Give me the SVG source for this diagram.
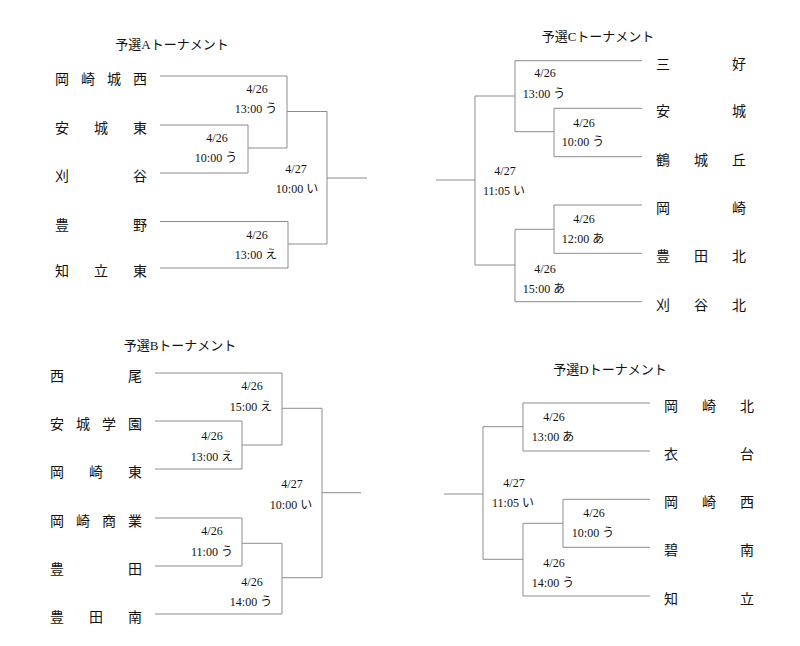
<svg xmlns="http://www.w3.org/2000/svg" width="800" height="646" viewBox="0 0 800 646">
<style>
.t{font-family:"Liberation Serif","Noto Sans CJK JP",serif;font-size:13px;fill:#111;text-anchor:middle}
.n{font-family:"Noto Sans CJK JP","Noto Sans CJK SC",sans-serif;font-size:14px;fill:#111}
.m{font-family:"Liberation Serif","Noto Sans CJK JP",serif;font-size:12px;fill:#111;text-anchor:middle}
.c path{fill:none;stroke:#8c8c8c;stroke-width:1}
</style>
<rect width="800" height="646" fill="#fff"/>
<g id="titles">
<text class="t" x="172" y="49">予選Aトーナメント</text>
<text class="t" x="598" y="41">予選Cトーナメント</text>
<text class="t" x="180" y="350">予選Bトーナメント</text>
<text class="t" x="610" y="374">予選Dトーナメント</text>
</g>
<g id="connectors" class="c">
<path d="M160 76H287V148M160 125H248V173H160M248 148H287M287 111.5H327M160 221.5H288V268H160M288 244H327M327 111.5V244M327 178H367"/>
<path d="M642 60.7H515V131.7M642 108.3H554V156.7H642M554 131.7H515M515 96H475M642 205H554V253.3H642M554 229.3H515V301.7H642M515 265H475M475 96V265M475 180H436"/>
<path d="M155 373H282V445M155 421H242V469H155M242 445H282M282 408.3H322M155 518H242V566H155M242 543.3H282V614H155M282 577.7H322M322 408.3V577.7M322 492.7H361"/>
<path d="M650 403H523V451H650M523 426.7H483M650 499.3H563V547.3H650M563 523.3H523V596H650M523 559.3H483M483 426.7V559.3M483 494H444"/>
</g>
<g id="A-teams" class="n">
<g id="a1"><text x="55" y="84">岡</text><text x="81" y="84">崎</text><text x="107" y="84">城</text><text x="133" y="84">西</text></g>
<g id="a2"><text x="55" y="133">安</text><text x="94" y="133">城</text><text x="133" y="133">東</text></g>
<g id="a3"><text x="55" y="181">刈</text><text x="133" y="181">谷</text></g>
<g id="a4"><text x="55" y="229.5">豊</text><text x="133" y="229.5">野</text></g>
<g id="a5"><text x="55" y="276">知</text><text x="94" y="276">立</text><text x="133" y="276">東</text></g>
</g>
<g id="A-matches" class="m">
<g id="am1"><text x="257" y="93">4/26</text><text x="256" y="113">13:00 う</text></g>
<g id="am2"><text x="217" y="142">4/26</text><text x="216" y="162">10:00 う</text></g>
<g id="am3"><text x="296" y="173">4/27</text><text x="297" y="193">10:00 い</text></g>
<g id="am4"><text x="257" y="239">4/26</text><text x="256" y="259">13:00 え</text></g>
</g>
<g id="C-teams" class="n">
<g id="c1"><text x="656" y="68.7">三</text><text x="732" y="68.7">好</text></g>
<g id="c2"><text x="656" y="116.3">安</text><text x="732" y="116.3">城</text></g>
<g id="c3"><text x="656" y="164.7">鶴</text><text x="694" y="164.7">城</text><text x="732" y="164.7">丘</text></g>
<g id="c4"><text x="656" y="213">岡</text><text x="732" y="213">崎</text></g>
<g id="c5"><text x="656" y="261.3">豊</text><text x="694" y="261.3">田</text><text x="732" y="261.3">北</text></g>
<g id="c6"><text x="656" y="309.7">刈</text><text x="694" y="309.7">谷</text><text x="732" y="309.7">北</text></g>
</g>
<g id="C-matches" class="m">
<g id="cm1"><text x="545" y="77">4/26</text><text x="544" y="97.5">13:00 う</text></g>
<g id="cm2"><text x="584" y="127">4/26</text><text x="583" y="146">10:00 う</text></g>
<g id="cm3"><text x="505" y="175">4/27</text><text x="504" y="195">11:05 い</text></g>
<g id="cm4"><text x="584" y="223">4/26</text><text x="583" y="243">12:00 あ</text></g>
<g id="cm5"><text x="545" y="273">4/26</text><text x="544" y="293">15:00 あ</text></g>
</g>
<g id="B-teams" class="n">
<g id="b1"><text x="50" y="381">西</text><text x="128" y="381">尾</text></g>
<g id="b2"><text x="50" y="429">安</text><text x="76" y="429">城</text><text x="102" y="429">学</text><text x="128" y="429">園</text></g>
<g id="b3"><text x="50" y="477">岡</text><text x="89" y="477">崎</text><text x="128" y="477">東</text></g>
<g id="b4"><text x="50" y="526">岡</text><text x="76" y="526">崎</text><text x="102" y="526">商</text><text x="128" y="526">業</text></g>
<g id="b5"><text x="50" y="574">豊</text><text x="128" y="574">田</text></g>
<g id="b6"><text x="50" y="622">豊</text><text x="89" y="622">田</text><text x="128" y="622">南</text></g>
</g>
<g id="B-matches" class="m">
<g id="bm1"><text x="252" y="390">4/26</text><text x="251" y="411">15:00 え</text></g>
<g id="bm2"><text x="212" y="440">4/26</text><text x="212" y="461">13:00 え</text></g>
<g id="bm3"><text x="292" y="488">4/27</text><text x="291" y="509">10:00 い</text></g>
<g id="bm4"><text x="212" y="535">4/26</text><text x="212" y="556">11:00 う</text></g>
<g id="bm5"><text x="252" y="586">4/26</text><text x="251" y="606">14:00 う</text></g>
</g>
<g id="D-teams" class="n">
<g id="d1"><text x="664" y="411">岡</text><text x="702" y="411">崎</text><text x="740" y="411">北</text></g>
<g id="d2"><text x="664" y="459">衣</text><text x="740" y="459">台</text></g>
<g id="d3"><text x="664" y="507.3">岡</text><text x="702" y="507.3">崎</text><text x="740" y="507.3">西</text></g>
<g id="d4"><text x="664" y="555.3">碧</text><text x="740" y="555.3">南</text></g>
<g id="d5"><text x="664" y="604">知</text><text x="740" y="604">立</text></g>
</g>
<g id="D-matches" class="m">
<g id="dm1"><text x="554" y="421">4/26</text><text x="553" y="441">13:00 あ</text></g>
<g id="dm2"><text x="514" y="487">4/27</text><text x="513" y="507">11:05 い</text></g>
<g id="dm3"><text x="594" y="517">4/26</text><text x="593" y="537">10:00 う</text></g>
<g id="dm4"><text x="554" y="567">4/26</text><text x="553" y="587">14:00 う</text></g>
</g>
</svg>
